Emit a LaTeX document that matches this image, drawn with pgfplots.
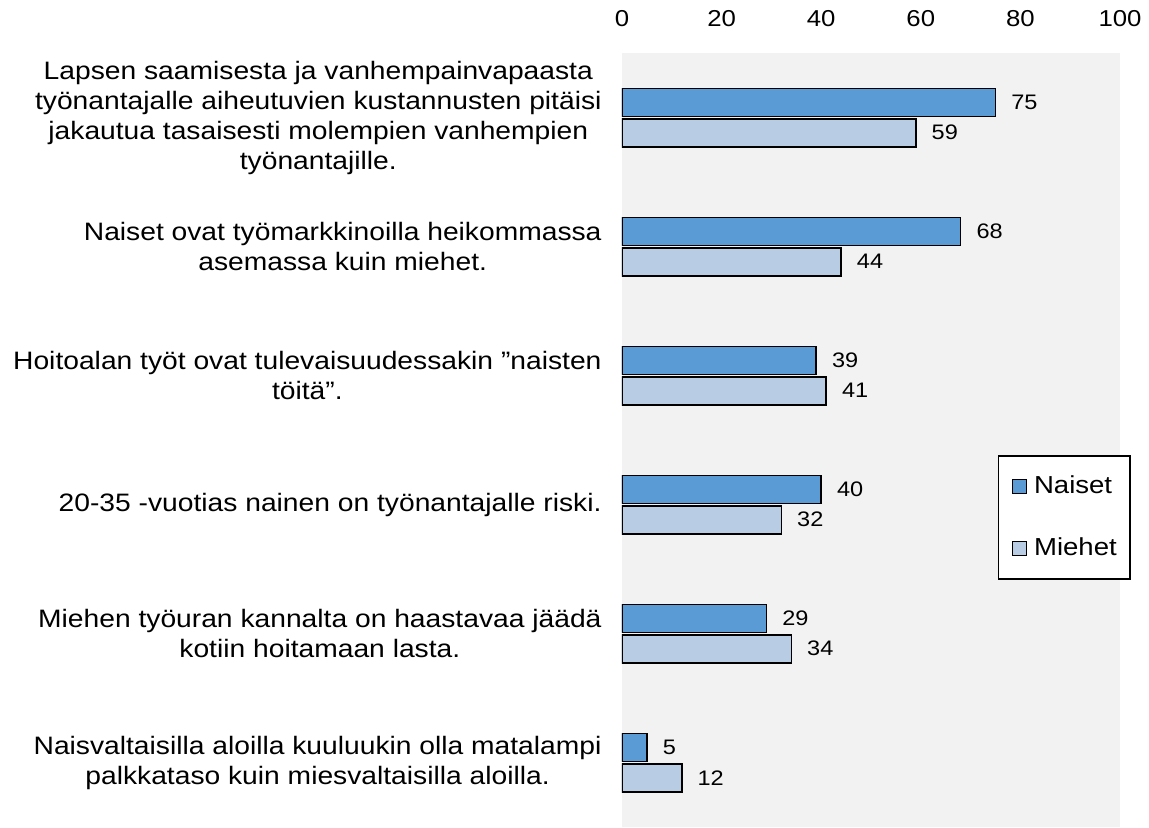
\documentclass[border=0pt]{standalone}
\usepackage{fontspec}
\setmainfont{Liberation Sans}[FakeStretch=1.12]
\usepackage{pgfplots}
\pgfplotsset{compat=1.18}
\definecolor{naiset}{HTML}{5B9BD5}
\definecolor{miehet}{HTML}{B8CCE4}
\definecolor{bg}{HTML}{F2F2F2}
\begin{document}
\begin{tikzpicture}
\begin{axis}[
  name=ax,
  xbar, scale only axis, width=249pt, height=387pt,
  xmin=0, xmax=100, ymin=-0.5, ymax=5.5,
  xtick={0,20,...,100}, xticklabel pos=upper,
  ytick={0,...,5},
  yticklabels={
    {Naisvaltaisilla aloilla kuuluukin olla matalampi\\palkkataso kuin miesvaltaisilla aloilla.},
    {Miehen työuran kannalta on haastavaa jäädä\\kotiin hoitamaan lasta.},
    {20-35 -vuotias nainen on työnantajalle riski.},
    {Hoitoalan työt ovat tulevaisuudessakin ”naisten\\töitä".},
    {Naiset ovat työmarkkinoilla heikommassa\\asemassa kuin miehet.},
    {Lapsen saamisesta ja vanhempainvapaasta\\työnantajalle aiheutuvien kustannusten pitäisi\\jakautua tasaisesti molempien vanhempien\\työnantajille.}
  },
  axis background/.style={fill=bg},
  axis line style={draw=none},
  major tick length=0pt,
  /pgf/number format/assume math mode=true,
  xticklabel style={font=\fontsize{11.5}{14}\selectfont, yshift=9.7pt},
  yticklabel style={font=\fontsize{12.6}{15}\selectfont, align=center, xshift=-6.7pt},
  bar width=14pt,
  nodes near coords,
  point meta=x,
  nodes near coords style={font=\fontsize{10.5}{12}\selectfont, anchor=west, xshift=4.2pt, black},
  legend style={at={(1.022,0.40)}, anchor=east, draw=black, fill=white, line width=0.8pt,
    font=\fontsize{12.3}{15}\selectfont, row sep=20.5pt, column sep=3.3pt,
    inner xsep=6.7pt, inner ysep=10pt, nodes={inner sep=0pt}},
  legend cell align=left,
  legend image code/.code={\draw[#1, line width=0.6pt] (0pt,-3.6pt) rectangle (7.2pt,3.6pt);},
]
\addplot[fill=naiset, draw=black, line width=0.8pt, bar shift=7.6pt]
  coordinates {(5,0) (29,1) (40,2) (39,3) (68,4) (75,5)};
\addplot[fill=miehet, draw=black, line width=0.8pt, bar shift=-7.6pt]
  coordinates {(12,0) (34,1) (32,2) (41,3) (44,4) (59,5)};
\legend{Naiset, Miehet}
\end{axis}
\pgfresetboundingbox
\path[use as bounding box] ([xshift=-311pt]ax.south west) rectangle ([xshift=263.5pt,yshift=413.5pt]ax.south west);
\end{tikzpicture}
\end{document}
